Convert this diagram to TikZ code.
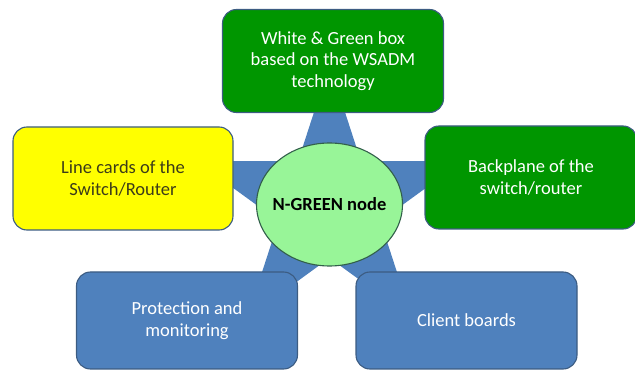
\documentclass[tikz,border=0pt]{standalone}
\usepackage{fontspec}
\setmainfont{Carlito}
\usepackage{tikz}
\usetikzlibrary{shapes.geometric}
\definecolor{mboxgreen}{RGB}{0,150,0}
\definecolor{mcoregreen}{RGB}{152,245,152}
\definecolor{mcardyellow}{RGB}{255,255,0}
\definecolor{mboardblue}{RGB}{79,129,189}
\definecolor{medgeblue}{RGB}{60,92,130}
\definecolor{mcoreedge}{RGB}{50,95,75}
\definecolor{mcardtext}{RGB}{60,60,25}
\def\mboxwidth{221}
\def\mboxheight{103}
\def\mstarradius{140}
\tikzset{part box/.style={rectangle, rounded corners=14pt, draw=medgeblue, line width=1.1pt, minimum width=\mboxwidth pt, minimum height=\mboxheight pt, align=center, text=white, font=\fontsize{18.5}{21.5}\selectfont, inner sep=0pt}}

\begin{document}
\begin{tikzpicture}[x=1pt, y=-1pt]
		% Outer Bounding box
		\useasboundingbox (0,0) rectangle (635,371);
		\clip (0,0) rectangle (635,371);
		\node[star, star points=5, star point ratio=2.618, minimum size=2*\mstarradius pt, inner sep=0pt, fill=mboardblue] (rays) at (329.5,204.5) {};
		\node[ellipse, fill=mcoregreen, draw=mcoreedge, line width=1.1pt, minimum width=146pt, minimum height=123pt, inner sep=-16pt, font=\fontsize{18.5}{21.5}\selectfont\bfseries] (core) at (rays.center) {N-GREEN node};
		\node[part box, fill=mboxgreen] (wgbox) at (333,61) {White \& Green box\\based on the WSADM\\technology};
		\node[part box, fill=mcardyellow, text=mcardtext, minimum width=220pt] (cards) at (123,178.5) {Line cards of the\\Switch/Router};
		\node[part box, fill=mboxgreen, minimum width=212pt] (backplane) at (531,177.5) {Backplane of the\\switch/router};
		\node[part box, fill=mboardblue, minimum height=97pt] (protection) at (187,320.5) {Protection and\\monitoring};
		\node[part box, fill=mboardblue, minimum height=97pt] (clients) at (466.5,320.5) {Client boards};
	\end{tikzpicture}
\end{document}
